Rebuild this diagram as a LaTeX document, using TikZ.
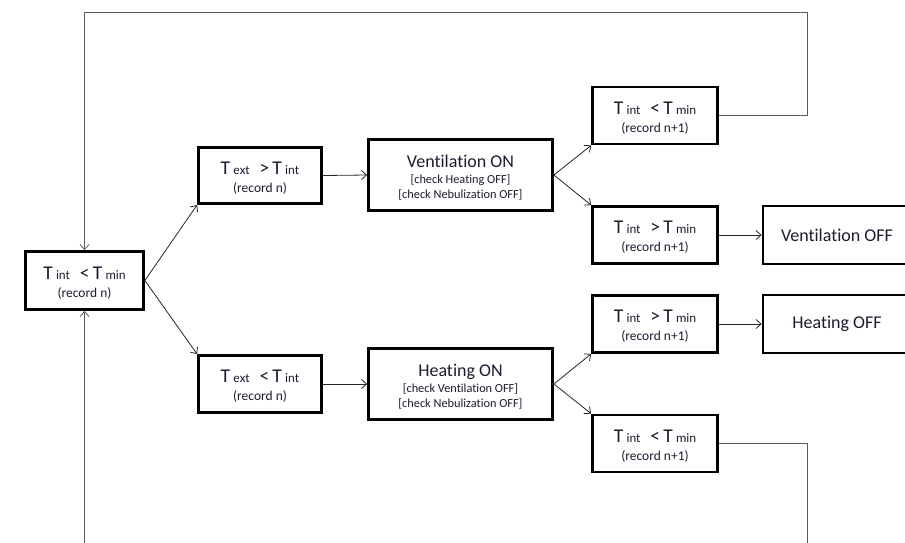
\documentclass[tikz,border=0pt]{standalone}
\usepackage{fontspec}
\setmainfont{Carlito}[Ligatures=NoCommon]
\usetikzlibrary{arrows.meta}

\definecolor{ink}{RGB}{28,28,48}
\definecolor{loopgray}{RGB}{90,90,90}

\newcommand\subsize{\fontsize{13}{14}\selectfont}

% condition label: T_{a} <rel> T_{b}, with the record line below
\newcommand\condtext[4]{%
  {\fontsize{19.5}{18}\selectfont\rule{0pt}{17pt}T\,{\subsize #1}\enspace#2\,T\,{\subsize #3}}\\
  (record #4)}
% action label: title with check lines below
\newcommand\acttext[3]{%
  {\fontsize{18}{18}\selectfont\rule{0pt}{17.5pt}#1}\\[1pt]
  \relax #2\\\relax #3}

\begin{document}
\begin{tikzpicture}[x=1pt,y=-1pt,
  box/.style={draw=black, line width=2.8pt, inner sep=0pt, align=center,
              text=ink, fill=white},
  cond/.style={box, minimum width=125pt, minimum height=57pt,
               font=\fontsize{13.5}{18}\selectfont},
  act/.style={box, minimum width=184pt, minimum height=71pt,
              font=\fontsize{12.3}{15.2}\selectfont},
  off/.style={box, minimum width=148pt, minimum height=58pt,
              font=\fontsize{18}{20}\selectfont},
  link/.style={draw=black!85, line width=0.8pt, -{Straight Barb[length=5pt,width=9pt,line width=0.8pt]}},
  back/.style={draw=loopgray, line width=0.8pt},
  backtip/.style={back, -{Straight Barb[length=5pt,width=9pt,line width=0.8pt]}}]
\useasboundingbox (0,0) rectangle (905,542);
\clip (0,0) rectangle (905,542);

% start test
\node[cond, minimum width=118pt, minimum height=58pt] (start) at (84.5,280.5)
  {\condtext{int}{<}{min}{n}};

% outside vs inside temperature
\node[cond, minimum width=123pt, minimum height=56pt] (hot) at (260,175.5)
  {\condtext{ext}{>}{int}{n}};
\node[cond, minimum width=123pt, minimum height=57pt] (cold) at (260,384)
  {\condtext{ext}{<}{int}{n}};

% actions
\node[act] (vent) at (460.5,175)
  {\acttext{Ventilation ON}{[check Heating OFF]}{[check Nebulization OFF]}};
\node[act] (heat) at (460.5,384)
  {\acttext{Heating ON}{[check Ventilation OFF]}{[check Nebulization OFF]}};

% checks at record n+1
\node[cond] (v-low)  at (655,115.5) {\condtext{int}{<}{min}{n+1}};
\node[cond] (v-high) at (655,235)   {\condtext{int}{>}{min}{n+1}};
\node[cond] (h-high) at (655,324)   {\condtext{int}{>}{min}{n+1}};
\node[cond] (h-low)  at (655,443.5) {\condtext{int}{<}{min}{n+1}};

% switch-off states
\node[off] (vent-off) at (837,235) {Ventilation OFF};
\node[off] (heat-off) at (837,324) {Heating OFF};

% branches
\draw[link] (start.east) -- (hot.south west);
\draw[link] (start.east) -- (cold.north west);
\draw[link] (hot.east) -- (vent.west);
\draw[link] (cold.east) -- (heat.west);
\draw[link] (vent.east) -- (v-low.south west);
\draw[link] (vent.east) -- (v-high.north west);
\draw[link] (heat.east) -- (h-high.south west);
\draw[link] (heat.east) -- (h-low.north west);
\draw[link] (v-high.east) -- (vent-off.west);
\draw[link] (h-high.east) -- (heat-off.west);

% feedback loops back to the start test
\coordinate (top-right) at (807,12);
\coordinate (bot-right) at (807,545);
\coordinate (bot-left)  at (84.5,545);
\draw[backtip] (v-low.east) -| (top-right) -| (start.north);
\draw[back] (h-low.east) -| (bot-right);
\draw[backtip] (bot-left) -- (start.south);
\end{tikzpicture}
\end{document}
